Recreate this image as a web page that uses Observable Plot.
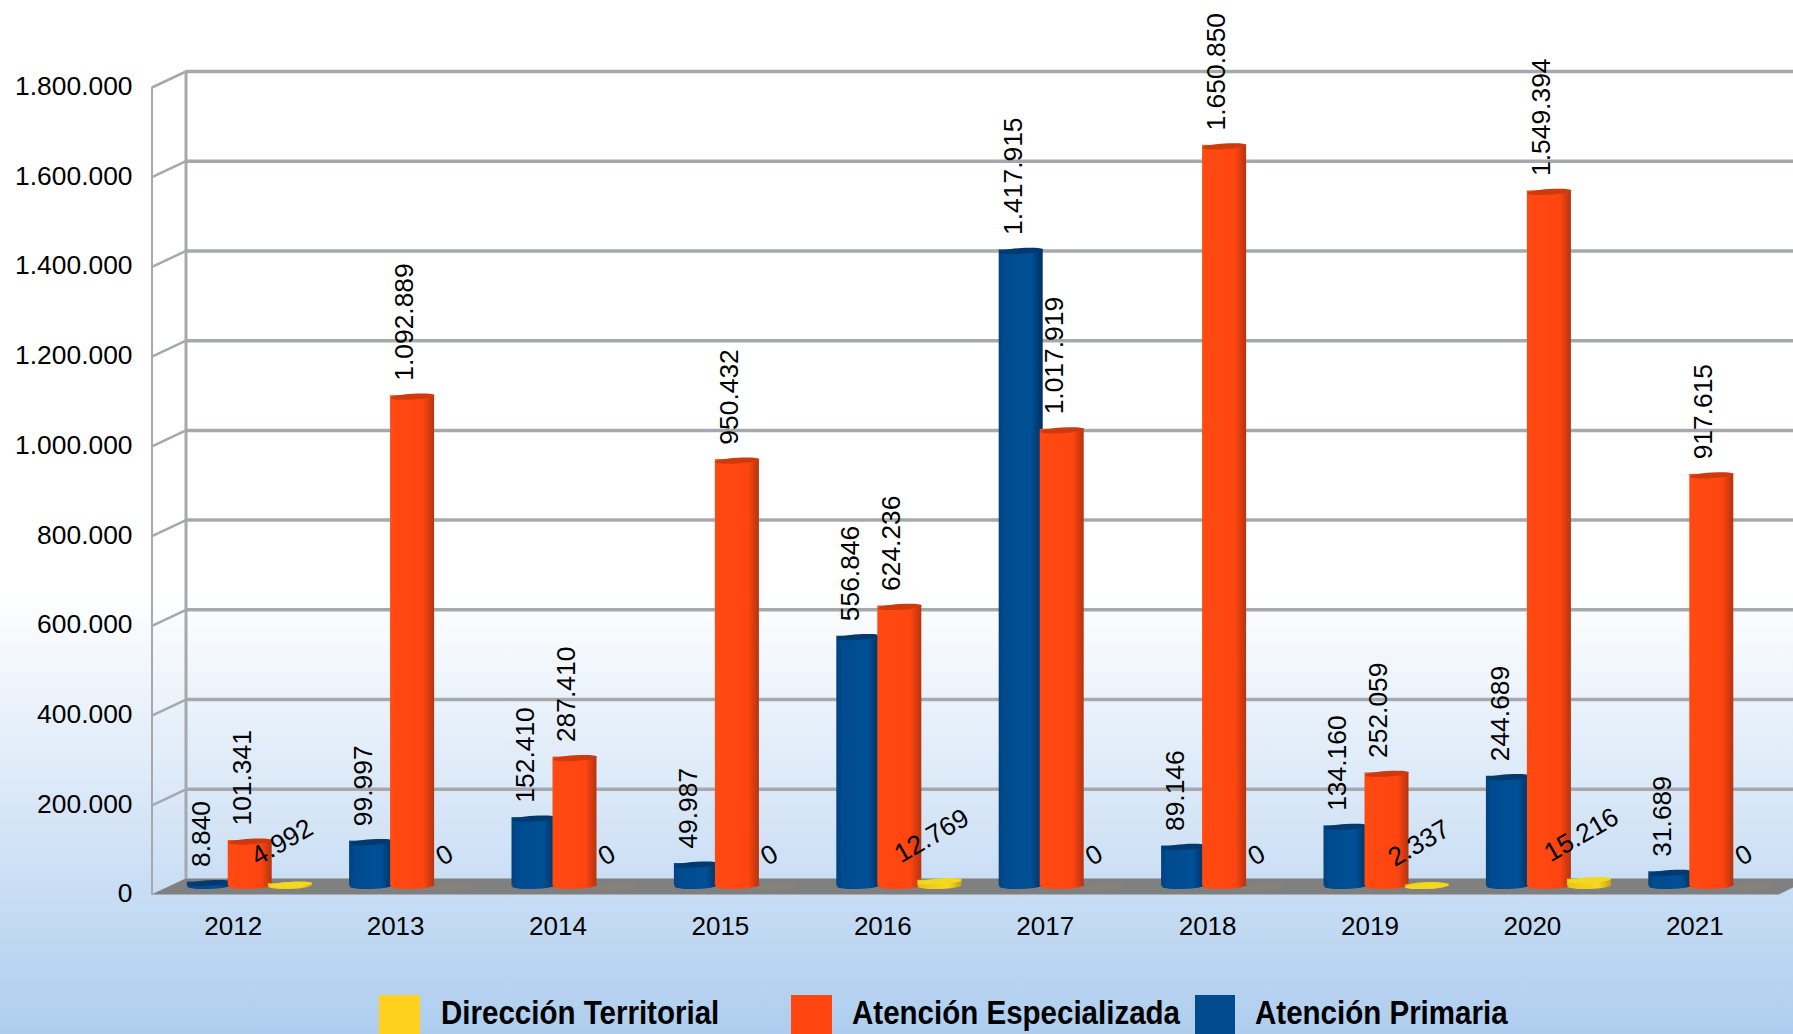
<!DOCTYPE html>
<html lang="es">
<head>
<meta charset="utf-8">
<script src="https://cdn.jsdelivr.net/npm/d3@7"></script>
<script src="https://cdn.jsdelivr.net/npm/@observablehq/plot@0.6"></script>
<style>
html,body{margin:0;padding:0;width:1793px;height:1034px;overflow:hidden;
  background:linear-gradient(to bottom,#fff 0,#fff 590px,#aecdee 1034px);
  font-family:"Liberation Sans",Arial,sans-serif;color:#000}
#chart{position:absolute;left:0;top:0}
#legend{position:absolute;left:0;top:970px;width:1793px;height:64px;overflow:hidden}
.sw{position:absolute;top:25px;height:60px}
.lb{position:absolute;top:22px;font-weight:700;font-size:34px;line-height:40px;white-space:nowrap;
  transform:scaleX(.868);transform-origin:left center}
</style>
</head>
<body>
<div id="chart"></div>
<div id="legend"></div>
<script>
const years = [2012,2013,2014,2015,2016,2017,2018,2019,2020,2021];
const primaria = [8840,99997,152410,49987,556846,1417915,89146,134160,244689,31689];
const especializada = [101341,1092889,287410,950432,624236,1017919,1650850,252059,1549394,917615];
const territorial = [4992,0,0,0,12769,0,0,2337,15216,0];
const yTicks = [0,200000,400000,600000,800000,1000000,1200000,1400000,1600000,1800000];
const seriesNames = ["Dirección Territorial","Atención Especializada","Atención Primaria"];

const fmt = v => d3.format(",")(v).replace(/,/g,".");
const pxYear = 162.4, pxValue = 807.5/1800000;
const depthV = 16/pxValue, depthX = 34/pxYear;       // floor depth, in data units
const baseV = -8/pxValue;                            // where the cylinders stand on the floor
const half = 22/pxYear;
const xMin = 2011.5, xMax = 2012 + (1793-232.7)/pxYear;

const table = (values, off) => years.map((year,i)=>({
  year, value: values[i], cx: year + off/pxYear,
  x1: year + off/pxYear - half, x2: year + off/pxYear + half,
  base: baseV, top: baseV + values[i], label: fmt(values[i])
}));
const P = table(primaria,-24), E = table(especializada,17), T = table(territorial,57);

const makeEllipse = (flat,tilt) => ({draw(c,size){
  const r=Math.sqrt(size/Math.PI), ry=r*flat, k=.5523;
  const p=(a,b)=>[a*r, b*ry-tilt*a*r];
  const cv=(a,b,d)=>c.bezierCurveTo(...p(...a),...p(...b),...p(...d));
  c.moveTo(...p(-1,0));
  cv([-1,-k],[-k,-1],[0,-1]); cv([k,-1],[1,-k],[1,0]);
  cv([1,k],[k,1],[0,1]); cv([-k,1],[-1,k],[-1,0]); c.closePath();
}});
const baseShape = makeEllipse(.16,.03), capShape = makeEllipse(.13,.06);

function defs(){
  const d=d3.create("svg:defs");
  const g=(id,stops)=>{const l=d.append("linearGradient").attr("id",id);
    stops.forEach(([o,c])=>l.append("stop").attr("offset",o).attr("stop-color",c));};
  g("gBlue",[[0,"#00427f"],[.12,"#004a8e"],[.72,"#005096"],[1,"#00305f"]]);
  g("gOrange",[[0,"#ff4a12"],[.75,"#ff4510"],[1,"#b53410"]]);
  g("gYellow",[[0,"#e8c418"],[.7,"#f8d820"],[1,"#c8a410"]]);
  return d.node();
}
const cyl=(rows,grad,cap)=>[
  Plot.dot(rows,{x:"cx",y:"base",dy:-1.5,r:22,symbol:baseShape,fill:`url(#${grad})`}),
  Plot.rect(rows,{x1:"x1",x2:"x2",y1:"base",y2:"top",dy:-1,fill:`url(#${grad})`}),
  Plot.dot(rows,{x:"cx",y:"top",r:22,symbol:capShape,fill:cap})
];
const wall="#a7a8ae";
const chart = Plot.plot({
  width:1793,height:970,marginLeft:151.5,marginRight:0,marginTop:71,marginBottom:75.5,
  style:{background:"transparent",fontFamily:"'Liberation Sans',Arial,sans-serif",fontSize:"26px",overflow:"visible"},
  x:{domain:[xMin,xMax],axis:null},
  y:{domain:[-depthV,1800000],axis:null},
  marks:[
    defs,
    Plot.ruleX([xMin],{y1:-depthV,y2:1800000-depthV,stroke:wall,strokeWidth:2}),
    Plot.ruleX([xMin+depthX],{y1:0,y2:1800000,stroke:wall,strokeWidth:3}),
    Plot.ruleY(yTicks.slice(1),{x1:xMin+depthX,x2:xMax,stroke:wall,strokeWidth:3.5}),
    Plot.link(yTicks.slice(1),{x1:xMin,y1:d=>d-depthV,x2:xMin+depthX,y2:d=>d,stroke:wall,strokeWidth:2.5}),
    Plot.areaY([
      {x:xMin,a:-depthV,b:-depthV},
      {x:xMin+depthX,a:-depthV,b:0},
      {x:2021.52,a:-depthV,b:0},
      {x:xMax,a:-depthV*.56,b:0}
    ],{x:"x",y1:"a",y2:"b",fill:"#808080"}),
    Plot.axisY(yTicks,{anchor:"left",tickSize:0,tickPadding:19.5,dy:15,fontSize:26.4,fill:"#000",tickFormat:fmt,label:null}),
    Plot.axisX(years,{anchor:"bottom",tickSize:0,tickPadding:22,fontSize:26,fill:"#000",tickFormat:String,label:null}),
    Plot.dot(T.filter(d=>d.value===0),{x:"cx",y:"base",r:22,symbol:baseShape,fill:"#c9b020",fillOpacity:.07}),
    cyl(P,"gBlue","#003a70"),
    cyl(E,"gOrange","#cf3a0c"),
    cyl(T.filter(d=>d.value>0),"gYellow","#f3d820"),
    [P,E].map(rows=>Plot.text(rows,{x:"cx",y:"top",text:"label",rotate:-90,textAnchor:"start",lineAnchor:"middle",dx:-8,dy:-16,fontSize:26.4,fill:"#000"})),
    Plot.text(T,{x:"cx",y:d=>d.top+d.label.length*2.72/pxValue,text:"label",rotate:-30,textAnchor:"middle",lineAnchor:"middle",dx:-8,dy:-28.9,fontSize:26.4,fill:"#000"})
  ]
});
document.getElementById("chart").append(chart);

const legendItems=[
  {name:seriesNames[0],color:"#ffd11e",sx:379,sw:41,tx:441},
  {name:seriesNames[1],color:"#ff4510",sx:791,sw:41,tx:852},
  {name:seriesNames[2],color:"#004a8e",sx:1195,sw:40,tx:1255}
];
const lg=d3.select("#legend");
for(const it of legendItems){
  lg.append("div").attr("class","sw").style("left",it.sx+"px").style("width",it.sw+"px").style("background",it.color);
  lg.append("div").attr("class","lb").style("left",it.tx+"px").text(it.name);
}
</script>
</body>
</html>
